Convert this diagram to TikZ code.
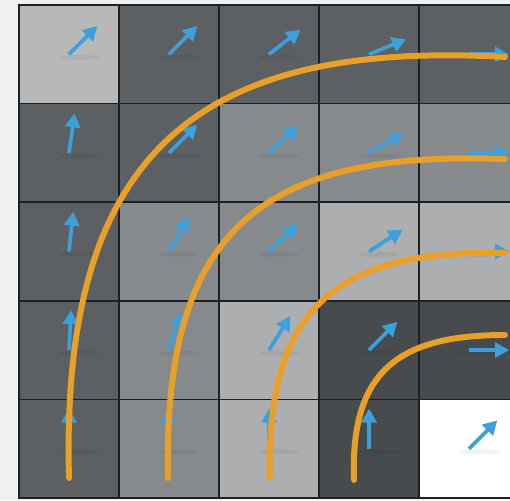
\documentclass[tikz,border=0pt]{standalone}
\usetikzlibrary{arrows.meta}
\definecolor{gridbg}{RGB}{238,240,242}
\definecolor{gridline}{RGB}{30,32,34}
\definecolor{tPale}{RGB}{184,184,184}
\definecolor{tLight}{RGB}{172,174,176}
\definecolor{tMid}{RGB}{135,138,140}
\definecolor{tDark}{RGB}{92,96,98}
\definecolor{tDeep}{RGB}{72,75,77}
\definecolor{flowblue}{RGB}{60,160,220}
\definecolor{streamorange}{RGB}{232,160,40}

\begin{document}
\begin{tikzpicture}[x=0.02cm,y=0.02cm,cell/.style={draw=gridline,line width=0.8pt,minimum width=2cm,minimum height=1.972cm,inner sep=0pt,outer sep=0pt},flow/.style={-{Triangle[length=2.8mm,width=3mm]},line width=2.1pt,draw=flowblue},blur/.style={fill=black,fill opacity=0.05},stream/.style={line width=3.4pt,draw=streamorange,line cap=round}]
\fill[gridbg] (0,0) rectangle (510,500);
\clip (0,0) rectangle (510,500);
% grid of cells
\foreach \r/\c/\tone in {0/0/tPale,0/1/tDark,0/2/tDark,0/3/tDark,0/4/tDark,1/0/tDark,1/1/tDark,1/2/tMid,1/3/tMid,1/4/tMid,2/0/tDark,2/1/tMid,2/2/tMid,2/3/tLight,2/4/tLight,3/0/tDark,3/1/tMid,3/2/tLight,3/3/tDeep,3/4/tDeep,4/0/tDark,4/1/tMid,4/2/tLight,4/3/tDeep,4/4/white}{\node[cell,fill=\tone] (c\r\c) at ({69+100*\c},{495-98.6*(\r+0.5)}) {};}
% flow arrows
\foreach \r/\c/\ang in {0/0/45,0/1/45,0/2/38,0/3/22,0/4/0,1/0/82,1/1/45,1/2/43,1/3/30,1/4/0,2/0/84,2/1/60,2/2/44,2/3/33,2/4/0,3/0/87,3/1/72,3/2/58,3/3/45,3/4/0,4/0/90,4/1/90,4/2/90,4/3/90,4/4/45}{\fill[blur] (c\r\c.center) ++(10,-3) ellipse (20 and 2.5); \draw[flow] (c\r\c.center) -- ++(\ang:40);}
% streamlines
\draw[stream] (69,22) .. controls (60,350) and (200,460) .. (505,443);
\draw[stream] (168,22) .. controls (163,270) and (260,350) .. (505,341);
\draw[stream] (270,22) .. controls (266,180) and (325,252) .. (505,247);
\draw[stream] (354,20) .. controls (350,130) and (400,165) .. (505,165);
\end{tikzpicture}
\end{document}
